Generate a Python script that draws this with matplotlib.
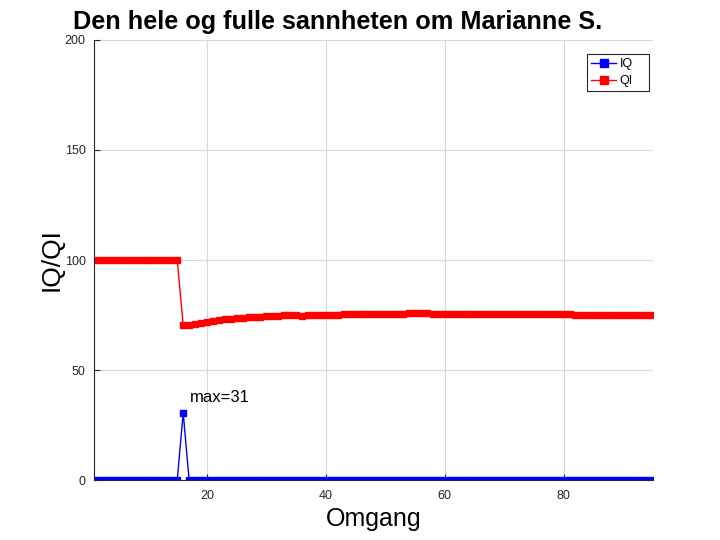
import matplotlib
matplotlib.use('Agg')
import matplotlib.pyplot as plt
from matplotlib.patches import Rectangle
import numpy as np

plt.rcParams['font.family'] = ['Liberation Sans', 'DejaVu Sans']

# omgang 1..95
omgang = list(range(1, 96))

# IQ: null overalt, bortsett fra toppen i omgang 16
iq = [0.0] * 15 + [30.5] + [0.0] * 79

# QI: 100 fram til omgang 15, deretter fall og langsom stigning
qi = ([100.0] * 15 +
      [70.3, 70.4, 71.0, 71.4, 71.8, 72.1, 72.6, 73.1, 73.4, 73.5,
       73.8, 73.9, 74.1, 74.3, 74.4, 74.5, 74.6, 74.8, 74.8, 74.8,
       74.7, 74.8, 74.9, 75.0, 75.1, 75.2, 75.2, 75.3, 75.3, 75.4,
       75.4, 75.5, 75.5, 75.5, 75.5, 75.6, 75.6, 75.6, 75.7, 75.7,
       75.7, 75.7, 75.6, 75.6, 75.6, 75.6, 75.5, 75.5, 75.5, 75.5,
       75.4, 75.4, 75.4, 75.4, 75.4, 75.4, 75.3, 75.3, 75.3, 75.3,
       75.3, 75.3, 75.3, 75.3, 75.3, 75.3, 75.2, 75.2, 75.2, 75.2,
       75.2, 75.2, 75.2, 75.2, 75.2, 75.2, 75.1, 75.1, 75.1, 75.1])

fig = plt.figure(figsize=(7.2, 5.4), dpi=100)
ax = fig.add_axes([0.1306, 0.111, 0.776, 0.815])

ax.plot(omgang, iq, '-s', color='#0000ff', lw=1, ms=4.8, label='IQ')
ax.plot(omgang, qi, '-s', color='#ff0000', lw=1, ms=4.8, label='QI')

imax = int(np.argmax(iq))
ax.text(omgang[imax] + 1.2, 37.5, 'max=%d' % round(max(iq) + 0.5),
        fontsize=12, ha='left', va='center')

ax.set_xlim(1, 95)
ax.set_ylim(0, 200)
ax.set_xticks([20, 40, 60, 80])
ax.set_yticks([0, 50, 100, 150, 200])
ax.grid(True, color='#d9d9d9', lw=0.8)
ax.set_axisbelow(True)
for s in ['top', 'right']:
    ax.spines[s].set_visible(False)
ax.spines['left'].set_color('#262626')
ax.spines['bottom'].set_color('#262626')
ax.tick_params(direction='in', labelsize=9, length=4, colors='#262626')
ax.tick_params(axis='x', pad=7)
ax.tick_params(axis='y', pad=6)

ax.set_xlabel('Omgang', fontsize=18, labelpad=4)
ax.set_ylabel('IQ/QI', fontsize=19, labelpad=1)
ax.set_title('Den hele og fulle sannheten om Marianne S.',
             fontsize=18.2, fontweight='bold', loc='left', x=-0.038, pad=8)

# legende i octave-stil: bred ramme med ekstra luft til høyre
ax.add_patch(Rectangle((0.8824, 0.8841), 0.111, 0.0841, transform=ax.transAxes,
                       facecolor='white', edgecolor='#262626', lw=0.8,
                       zorder=4, clip_on=False))
leg = ax.legend(loc='upper left', bbox_to_anchor=(0.8824, 0.9682),
                fontsize=9, frameon=False, handlelength=2.0,
                handletextpad=0.3, labelspacing=0.44,
                borderaxespad=0, borderpad=0.32, markerscale=1.2)
leg.set_zorder(5)

plt.savefig('out.png', dpi=100)
